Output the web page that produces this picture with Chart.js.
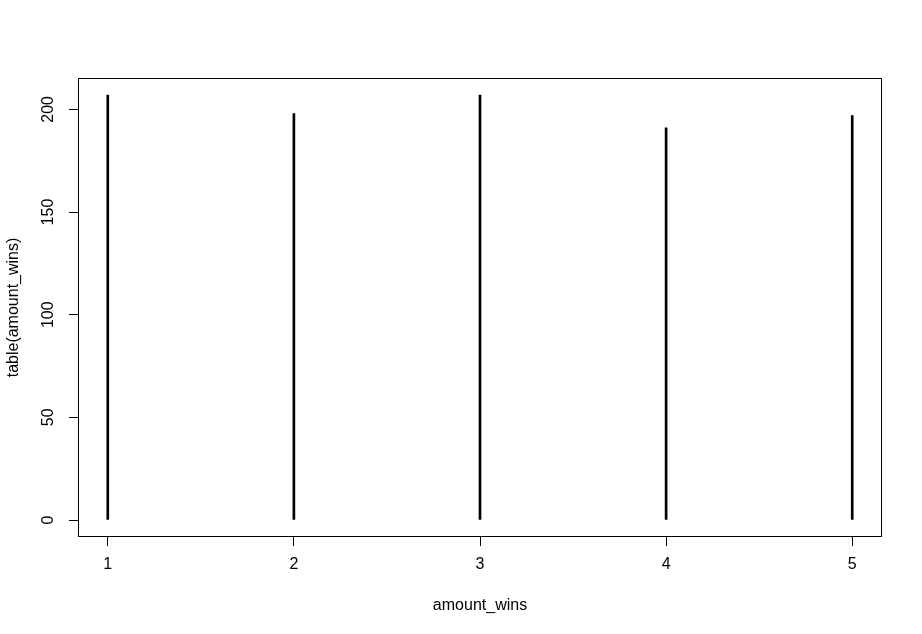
<!DOCTYPE html>
<html>
<head>
<meta charset="utf-8">
<script src="https://cdn.jsdelivr.net/npm/chart.js@4/dist/chart.umd.min.js"></script>
<style>
html,body{margin:0;padding:0;background:#fff;}
#wrap{width:922px;height:634px;}
</style>
</head>
<body>
<div id="wrap"><canvas id="c" width="922" height="634"></canvas></div>
<script>
const categories = [1, 2, 3, 4, 5];
const counts = [207, 198, 207, 191, 197];
const yTickValues = [0, 50, 100, 150, 200];
const xTickValues = [1, 2, 3, 4, 5];
const xTitle = 'amount_wins';
const yTitle = 'table(amount_wins)';

const FONT = 'Liberation Sans, Arial, sans-serif';
const FSIZE = 16;

function rangeExt(lo, hi) { const d = (hi - lo) * 0.04; return [lo - d, hi + d]; }
const xr = rangeExt(Math.min(...categories), Math.max(...categories));
const yr = rangeExt(0, Math.max(...counts));

const boxPlugin = {
  id: 'box',
  afterDraw(chart) {
    const {ctx, chartArea: a} = chart;
    ctx.save();
    ctx.strokeStyle = '#000';
    ctx.lineWidth = 1;
    ctx.strokeRect(Math.round(a.left) + 0.5, Math.round(a.top) + 0.5,
      Math.round(a.right - a.left) - 1, Math.round(a.bottom - a.top) - 1);
    // rotated y tick labels
    const ys = chart.scales.y;
    ctx.fillStyle = '#000';
    ctx.font = FSIZE + 'px ' + FONT;
    ctx.textAlign = 'center';
    ctx.textBaseline = 'bottom';
    yTickValues.forEach(v => {
      const py = ys.getPixelForValue(v);
      ctx.save();
      ctx.translate(a.left - 21, py);
      ctx.rotate(-Math.PI / 2);
      ctx.fillText(String(v), 0, 0);
      ctx.restore();
    });
    ctx.restore();
  }
};

new Chart(document.getElementById('c'), {
  type: 'bar',
  data: {
    datasets: [{
      data: categories.map((c, i) => ({x: c, y: counts[i]})),
      backgroundColor: '#000',
      borderWidth: 0,
      barThickness: 2
    }]
  },
  options: {
    responsive: false,
    animation: false,
    devicePixelRatio: 1,
    layout: {padding: {left: 0, top: 78, right: 40, bottom: 0}},
    plugins: {legend: {display: false}, tooltip: {enabled: false}},
    scales: {
      x: {
        type: 'linear',
        min: xr[0], max: xr[1],
        offset: false,
        afterFit(s) { s.height = 97; },
        afterBuildTicks(s) { s.ticks = xTickValues.map(v => ({value: v})); },
        border: {display: false},
        grid: {offset: false, drawOnChartArea: false, drawTicks: true, tickLength: 9, color: '#000', lineWidth: 1},
        ticks: {color: '#000', font: {family: FONT, size: FSIZE}, padding: 9, maxRotation: 0, autoSkip: false,
          callback: v => String(v)},
        title: {display: true, text: xTitle, color: '#000', font: {family: FONT, size: FSIZE}, padding: {top: 0, bottom: 19}}
      },
      y: {
        type: 'linear',
        min: yr[0], max: yr[1],
        afterFit(s) { s.width = 78; },
        afterBuildTicks(s) { s.ticks = yTickValues.map(v => ({value: v})); },
        border: {display: false},
        grid: {drawOnChartArea: false, drawTicks: true, tickLength: 9, color: '#000', lineWidth: 1},
        ticks: {display: false},
        title: {display: true, text: yTitle, color: '#000', font: {family: FONT, size: FSIZE}, padding: {top: 4, bottom: 0}}
      }
    }
  },
  plugins: [boxPlugin]
});
</script>
</body>
</html>
